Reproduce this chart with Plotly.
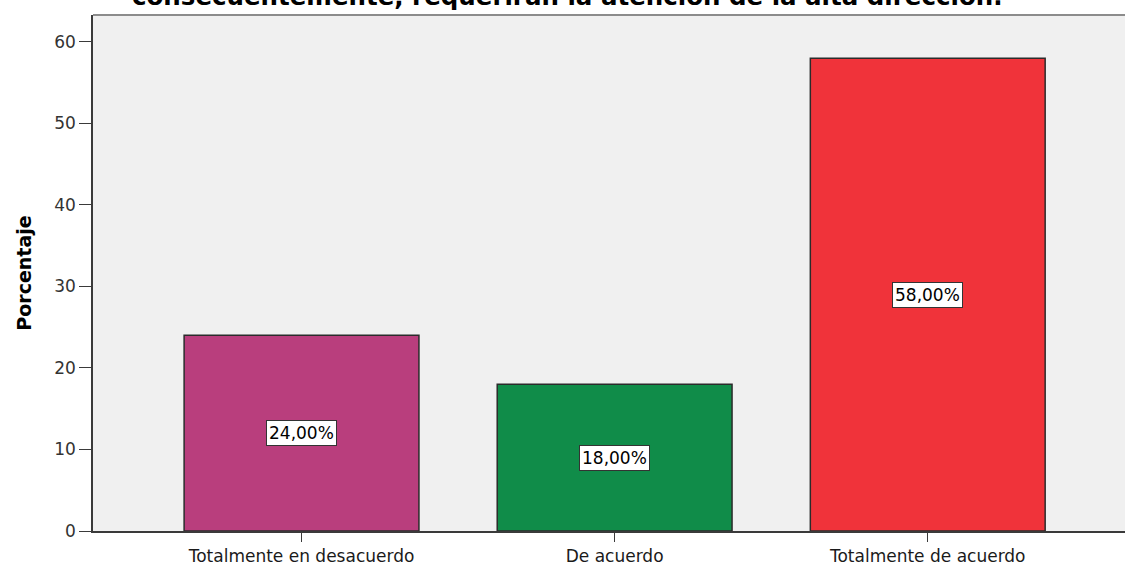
import plotly.graph_objects as go

categorias = ["Totalmente en desacuerdo", "De acuerdo", "Totalmente de acuerdo"]
porcentajes = [24.0, 18.0, 58.0]
colores = ["#B93E7D", "#108C49", "#F0333A"]
etiquetas = ["24,00%", "18,00%", "58,00%"]
titulo = "consecuentemente, requerirán la atención de la alta dirección."

FONT = "DejaVu Sans, Arial, sans-serif"

fig = go.Figure(
    go.Bar(
        x=list(range(len(categorias))),
        y=porcentajes,
        marker=dict(color=colores, line=dict(color="#2b2b2b", width=1.5)),
        width=0.75,
        hoverinfo="skip",
    )
)

# etiquetas en el centro de cada barra
for i, (v, lab) in enumerate(zip(porcentajes, etiquetas)):
    fig.add_annotation(
        x=i, y=v / 2, text=lab, showarrow=False,
        font=dict(family=FONT, size=17, color="#000000"),
        bgcolor="#ffffff", bordercolor="#333333", borderwidth=1, borderpad=2,
    )

# titulo cortado arriba, como en la imagen original
fig.add_annotation(
    text="<b>" + titulo + "</b>", xref="paper", yref="paper",
    x=0.459, y=1.0, yanchor="bottom", yshift=2, showarrow=False,
    font=dict(family=FONT, size=24.5, color="#000000"),
)

# linea superior del marco
fig.add_shape(type="line", xref="paper", yref="paper", x0=0, x1=1, y0=1, y1=1,
              line=dict(color="#8c8c8c", width=2))

fig.update_layout(
    width=1125, height=566,
    margin=dict(l=93, r=0, t=15, b=29),
    paper_bgcolor="#ffffff",
    plot_bgcolor="#F0F0F0",
    showlegend=False,
    font=dict(family=FONT, size=17, color="#262626"),
)
fig.update_xaxes(
    range=[-0.666, 2.63], tickvals=list(range(len(categorias))), ticktext=categorias,
    showgrid=False, zeroline=False, showline=True, linecolor="#3a3a3a", linewidth=1.5,
    ticks="outside", ticklen=9, tickcolor="#3a3a3a", tickfont=dict(size=17, color="#1a1a1a"),
)
fig.update_yaxes(
    range=[0, 63.3], tickvals=[0, 10, 20, 30, 40, 50, 60],
    showgrid=False, zeroline=False, showline=True, linecolor="#3a3a3a", linewidth=1.5,
    ticks="outside", ticklen=12, tickcolor="#3a3a3a", tickfont=dict(size=17, color="#333333"),
    title=dict(text="<b>Porcentaje</b>", font=dict(size=19, color="#000000"), standoff=18),
)

fig.write_html(
    "out.html",
    config={"displayModeBar": False},
    post_script="document.body.style.margin='0';",
)
